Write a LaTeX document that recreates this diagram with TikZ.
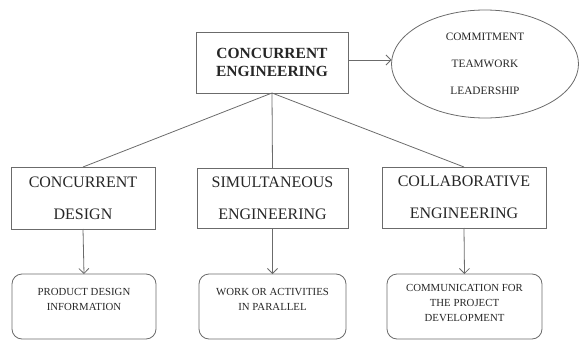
\documentclass[tikz,border=0pt]{standalone}
\usepackage{fontspec}
\setmainfont{Liberation Serif}
\usetikzlibrary{shapes.geometric,arrows.meta}
\definecolor{linegray}{gray}{0.42}
\definecolor{inkgray}{gray}{0.15}
\tikzset{
	headbox/.style={draw=linegray, line width=0.8pt, text=inkgray, align=center, inner sep=0pt, outer sep=0pt, font=\bfseries\fontsize{15.5}{18}\selectfont},
	valueoval/.style={ellipse, draw=linegray, line width=0.8pt, text=inkgray, align=center, inner sep=0pt, outer sep=0pt, font=\fontsize{11.3}{27}\selectfont},
	kindbox/.style={draw=linegray, line width=0.8pt, text=inkgray, align=center, inner sep=0pt, outer sep=0pt, font=\fontsize{16}{32}\selectfont},
	leafbox/.style={draw=linegray, line width=0.8pt, rounded corners=10pt, text=inkgray, align=center, inner sep=0pt, outer sep=0pt, minimum height=65pt, font=\fontsize{10.8}{15}\selectfont},
	link/.style={draw=linegray, line width=0.8pt},
	arrowlink/.style={draw=linegray, line width=0.8pt, -{Straight Barb[length=5pt, width=10pt]}}
}

\begin{document}
\begin{tikzpicture}[x=1pt, y=-1pt]
			%%%%% START %%%%%
			
			\useasboundingbox (0, 0) rectangle (579, 340);
			
			\node[headbox, minimum width=152pt, minimum height=61pt] (ce) at (272, 62.5) {CONCURRENT\\ENGINEERING};
			\node[valueoval, minimum width=187pt, minimum height=108pt] (values) at (485, 64) {COMMITMENT\\TEAMWORK\\LEADERSHIP};
			
			\node[kindbox, minimum width=144pt, minimum height=62pt] (cd) at (83, 198) {CONCURRENT\\DESIGN};
			\node[kindbox, minimum width=151pt, minimum height=60pt] (se) at (272.5, 198) {SIMULTANEOUS\\ENGINEERING};
			\node[kindbox, minimum width=164pt, minimum height=61pt] (cole) at (464, 197.5) {COLLABORATIVE\\ENGINEERING};
			
			\node[leafbox, minimum width=144pt] (cdleaf) at (84, 306.5) {PRODUCT DESIGN\\INFORMATION\\\mbox{}};
			\node[leafbox, minimum width=147pt] (seleaf) at (272.5, 306.5) {WORK OR ACTIVITIES\\IN PARALLEL\\\mbox{}};
			\node[leafbox, minimum width=155pt] (coleleaf) at (464.5, 306.5) {COMMUNICATION FOR\\THE PROJECT\\DEVELOPMENT\\[-8pt]\mbox{}};
			
			\draw[arrowlink] (ce.east |- 0, 60) -- (values.west |- 0, 60);
			
			\draw[link] (ce.south) -- (cd.north);
			\draw[link] (ce.south) -- (se.north);
			\draw[link] (ce.south) -- (cole.north);
			
			\draw[arrowlink] (cd.south) -- (cdleaf.north);
			\draw[arrowlink] (se.south) -- (seleaf.north);
			\draw[arrowlink] (cole.south) -- (coleleaf.north);
			
			%%%%% END %%%%%
\end{tikzpicture}
\end{document}
